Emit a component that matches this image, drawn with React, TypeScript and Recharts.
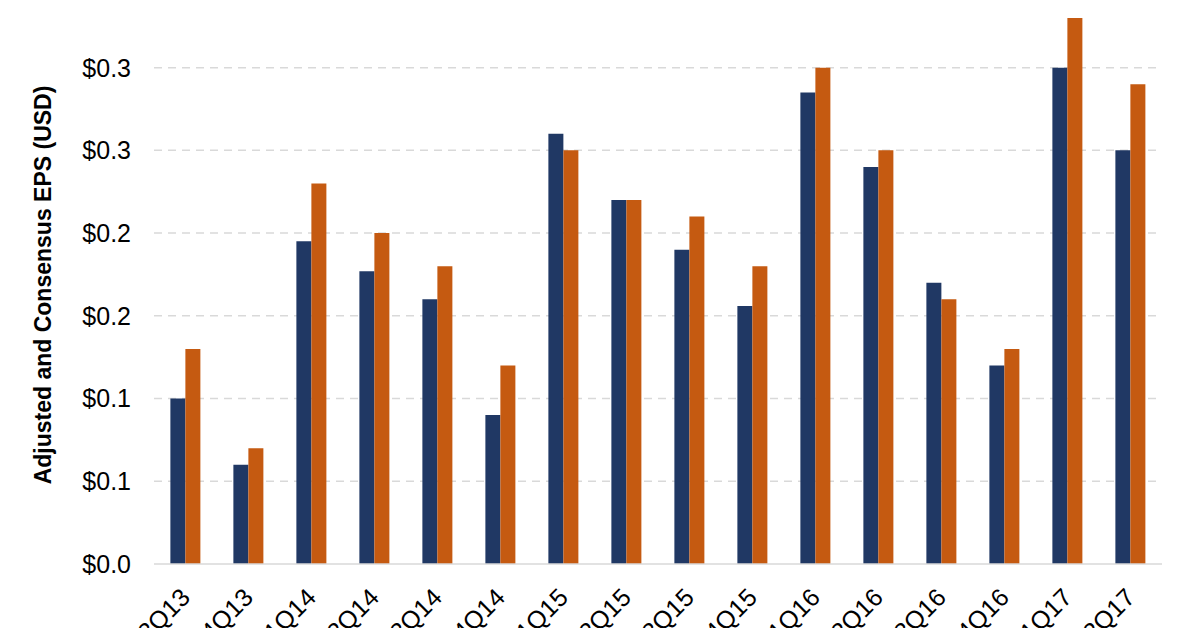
import React from "react";
import { Bar, BarChart, CartesianGrid, XAxis, YAxis } from "recharts";

// Quarters and EPS values (USD)
const QUARTERS = [
  "3Q13", "4Q13", "1Q14", "2Q14", "3Q14", "4Q14", "1Q15", "2Q15",
  "3Q15", "4Q15", "1Q16", "2Q16", "3Q16", "4Q16", "1Q17", "2Q17",
];
const ADJUSTED_EPS = [
  0.1, 0.06, 0.195, 0.177, 0.16, 0.09, 0.26, 0.22,
  0.19, 0.156, 0.285, 0.24, 0.17, 0.12, 0.3, 0.25,
];
const CONSENSUS_EPS = [
  0.13, 0.07, 0.23, 0.2, 0.18, 0.12, 0.25, 0.22,
  0.21, 0.18, 0.3, 0.25, 0.16, 0.13, 0.33, 0.29,
];
const Y_TICKS = [0, 0.05, 0.1, 0.15, 0.2, 0.25, 0.3];

const data = QUARTERS.map((q, i) => ({
  quarter: q,
  adjusted: ADJUSTED_EPS[i],
  consensus: CONSENSUS_EPS[i],
}));

const FONT = "'Liberation Sans', Arial, sans-serif";

// rotated quarter labels, cut off at the bottom like the original
const XTick = (props: any) => {
  const { x, y, payload } = props;
  return (
    <g transform={`translate(${x + 6},${y + 35})`}>
      <text
        textAnchor="end"
        transform="rotate(-45)"
        fontFamily={FONT}
        fontSize={25}
        fill="#000"
      >
        {payload.value}
      </text>
    </g>
  );
};

const App: React.FC = () => {
  return (
    <div style={{ position: "absolute", left: 0, top: 0, background: "#fff" }}>
      <BarChart
        width={1200}
        height={628}
        data={data}
        margin={{ top: 18, right: 38, bottom: 0, left: 0 }}
        barCategoryGap="26%"
        barGap={0}
      >
        <CartesianGrid
          vertical={false}
          horizontalValues={Y_TICKS.slice(1)}
          stroke="#D9D9D9"
          strokeDasharray="8 6"
          strokeWidth={1.5}
        />
        <XAxis
          dataKey="quarter"
          height={64}
          tickLine={false}
          tickSize={0}
          tickMargin={0}
          axisLine={{ stroke: "#D9D9D9", strokeWidth: 1.5 }}
          tick={<XTick />}
          interval={0}
        />
        <YAxis
          width={154}
          domain={[0, 0.33]}
          ticks={Y_TICKS}
          tickLine={false}
          axisLine={false}
          tickSize={0}
          tickMargin={23}
          tick={{ fontFamily: FONT, fontSize: 25, fill: "#000" }}
          tickFormatter={(v: number) => `$${(Math.round(v * 10) / 10).toFixed(1)}`}
          label={{
            value: "Adjusted and Consensus EPS (USD)",
            angle: -90,
            position: "center",
            dx: -34,
            dy: -6,
            style: {
              fontFamily: FONT,
              fontSize: 23,
              fontWeight: "bold",
              fill: "#000",
              textAnchor: "middle",
            },
          }}
        />
        <Bar dataKey="adjusted" fill="#203864" isAnimationActive={false} />
        <Bar dataKey="consensus" fill="#C55A11" isAnimationActive={false} />
      </BarChart>
    </div>
  );
};

export default App;
